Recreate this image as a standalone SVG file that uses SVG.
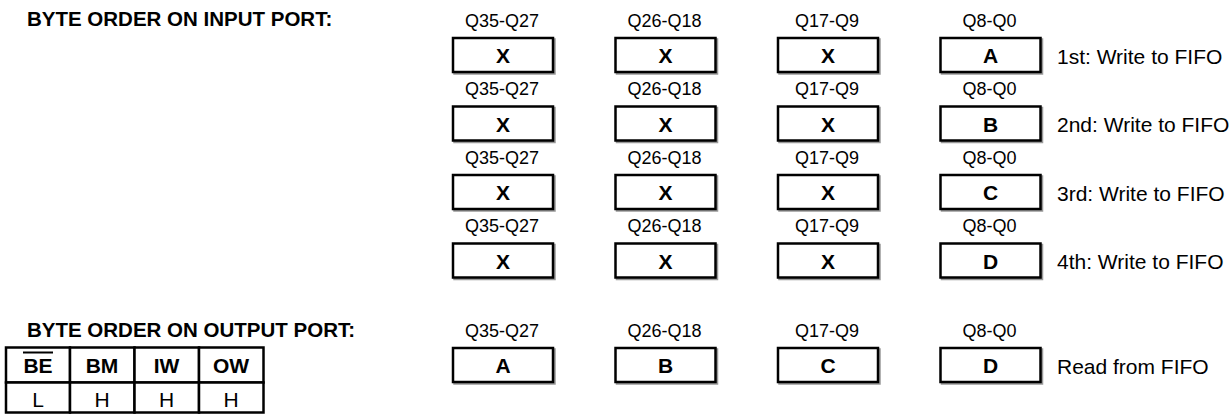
<svg xmlns="http://www.w3.org/2000/svg" width="1232" height="414" viewBox="0 0 1232 414">
  <style>
    text { font-family: "Liberation Sans", Arial, sans-serif; fill: #000; }
    .title { font-size: 20.5px; font-weight: bold; }
    .bus { font-size: 18px; text-anchor: middle; }
    .val { font-size: 21px; font-weight: bold; text-anchor: middle; }
    .note { font-size: 21px; }
    .box { fill: #fff; stroke: #000; stroke-width: 2.5; }
    .shadow { fill: none; stroke: #999; stroke-width: 2.5; }
    .cell { fill: #fff; stroke: #000; stroke-width: 2.5; }
    .th { font-size: 21px; font-weight: bold; text-anchor: middle; }
    .td { font-size: 21px; text-anchor: middle; }
  </style>
  <defs>
    <g id="reg">
      <rect class="shadow" x="1.5" y="1.5" width="100" height="34"/>
      <rect class="box" x="0" y="0" width="100" height="34"/>
    </g>
  </defs>

  <rect x="0" y="0" width="1232" height="414" fill="#fff"/>

  <!-- Input port section -->
  <text class="title" x="27" y="26">BYTE ORDER ON INPUT PORT:</text>

  <g id="in-row1">
    <text class="bus" x="502" y="26.5">Q35-Q27</text>
    <text class="bus" x="664.5" y="26.5">Q26-Q18</text>
    <text class="bus" x="827" y="26.5">Q17-Q9</text>
    <text class="bus" x="989.5" y="26.5">Q8-Q0</text>
    <use href="#reg" x="453" y="38"/>
    <use href="#reg" x="615.5" y="38"/>
    <use href="#reg" x="778" y="38"/>
    <use href="#reg" x="940.5" y="38"/>
    <text class="val" x="503" y="63">X</text>
    <text class="val" x="665.5" y="63">X</text>
    <text class="val" x="828" y="63">X</text>
    <text class="val" x="990.5" y="63">A</text>
    <text class="note" x="1057" y="63.5">1st: Write to FIFO</text>
  </g>

  <g id="in-row2">
    <text class="bus" x="502" y="95">Q35-Q27</text>
    <text class="bus" x="664.5" y="95">Q26-Q18</text>
    <text class="bus" x="827" y="95">Q17-Q9</text>
    <text class="bus" x="989.5" y="95">Q8-Q0</text>
    <use href="#reg" x="453" y="106.5"/>
    <use href="#reg" x="615.5" y="106.5"/>
    <use href="#reg" x="778" y="106.5"/>
    <use href="#reg" x="940.5" y="106.5"/>
    <text class="val" x="503" y="131.5">X</text>
    <text class="val" x="665.5" y="131.5">X</text>
    <text class="val" x="828" y="131.5">X</text>
    <text class="val" x="990.5" y="131.5">B</text>
    <text class="note" x="1057" y="132">2nd: Write to FIFO</text>
  </g>

  <g id="in-row3">
    <text class="bus" x="502" y="163.5">Q35-Q27</text>
    <text class="bus" x="664.5" y="163.5">Q26-Q18</text>
    <text class="bus" x="827" y="163.5">Q17-Q9</text>
    <text class="bus" x="989.5" y="163.5">Q8-Q0</text>
    <use href="#reg" x="453" y="175"/>
    <use href="#reg" x="615.5" y="175"/>
    <use href="#reg" x="778" y="175"/>
    <use href="#reg" x="940.5" y="175"/>
    <text class="val" x="503" y="200">X</text>
    <text class="val" x="665.5" y="200">X</text>
    <text class="val" x="828" y="200">X</text>
    <text class="val" x="990.5" y="200">C</text>
    <text class="note" x="1057" y="200.5">3rd: Write to FIFO</text>
  </g>

  <g id="in-row4">
    <text class="bus" x="502" y="232">Q35-Q27</text>
    <text class="bus" x="664.5" y="232">Q26-Q18</text>
    <text class="bus" x="827" y="232">Q17-Q9</text>
    <text class="bus" x="989.5" y="232">Q8-Q0</text>
    <use href="#reg" x="453" y="243.5"/>
    <use href="#reg" x="615.5" y="243.5"/>
    <use href="#reg" x="778" y="243.5"/>
    <use href="#reg" x="940.5" y="243.5"/>
    <text class="val" x="503" y="268.5">X</text>
    <text class="val" x="665.5" y="268.5">X</text>
    <text class="val" x="828" y="268.5">X</text>
    <text class="val" x="990.5" y="268.5">D</text>
    <text class="note" x="1057" y="269">4th: Write to FIFO</text>
  </g>

  <!-- Output port section -->
  <text class="title" x="27" y="337">BYTE ORDER ON OUTPUT PORT:</text>

  <g id="out-row">
    <text class="bus" x="502" y="336.5">Q35-Q27</text>
    <text class="bus" x="664.5" y="336.5">Q26-Q18</text>
    <text class="bus" x="827" y="336.5">Q17-Q9</text>
    <text class="bus" x="989.5" y="336.5">Q8-Q0</text>
    <use href="#reg" x="453" y="348"/>
    <use href="#reg" x="615.5" y="348"/>
    <use href="#reg" x="778" y="348"/>
    <use href="#reg" x="940.5" y="348"/>
    <text class="val" x="503" y="373">A</text>
    <text class="val" x="665.5" y="373">B</text>
    <text class="val" x="828" y="373">C</text>
    <text class="val" x="990.5" y="373">D</text>
    <text class="note" x="1057" y="373.5">Read from FIFO</text>
  </g>

  <!-- Mode pin table -->
  <g id="mode-table">
    <rect class="cell" x="6" y="347.5" width="64" height="35"/>
    <rect class="cell" x="70" y="347.5" width="64.5" height="35"/>
    <rect class="cell" x="134.5" y="347.5" width="64.5" height="35"/>
    <rect class="cell" x="199" y="347.5" width="64.5" height="35"/>
    <rect class="cell" x="6" y="382.5" width="64" height="30"/>
    <rect class="cell" x="70" y="382.5" width="64.5" height="30"/>
    <rect class="cell" x="134.5" y="382.5" width="64.5" height="30"/>
    <rect class="cell" x="199" y="382.5" width="64.5" height="30"/>
    <text class="th" x="38" y="373">BE</text>
    <line x1="23" y1="352.5" x2="53" y2="352.5" stroke="#000" stroke-width="2"/>
    <text class="th" x="102" y="373">BM</text>
    <text class="th" x="166.5" y="373">IW</text>
    <text class="th" x="231" y="373">OW</text>
    <text class="td" x="38" y="406.5">L</text>
    <text class="td" x="102" y="406.5">H</text>
    <text class="td" x="166.5" y="406.5">H</text>
    <text class="td" x="231" y="406.5">H</text>
  </g>
</svg>
